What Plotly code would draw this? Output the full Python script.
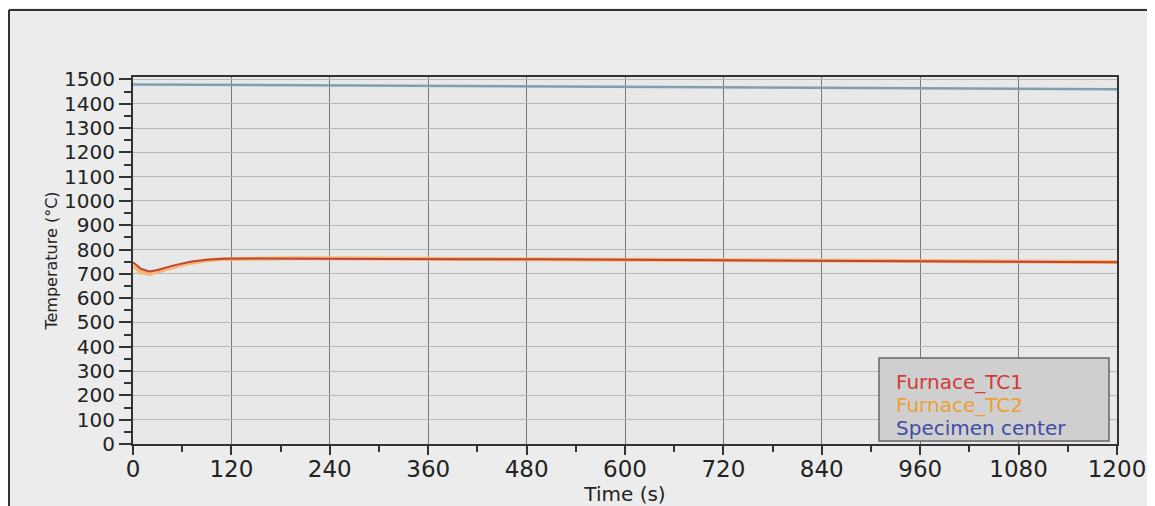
import plotly.graph_objects as go

# ---- data ----
series_names = ["Furnace_TC1", "Furnace_TC2", "Specimen center"]
series_colors = ["#d23a36", "#eba035", "#3f4ca6"]

t_tc1 = [0, 5, 10, 20, 30, 50, 70, 90, 110, 150, 200, 300, 400, 500, 600, 700, 800, 900, 1000, 1100, 1200]
tc1 = [748, 735, 720, 710, 716, 735, 750, 758, 762, 763, 762, 761, 760, 760, 758, 757, 755, 753, 751, 750, 748]

t_tc2 = [0, 5, 10, 20, 30, 50, 70, 90, 110, 150, 200, 300, 400, 500, 600, 700, 800, 900, 1000, 1100, 1200]
tc2 = [732, 718, 706, 700, 708, 728, 745, 756, 761, 764, 764, 763, 762, 761, 760, 759, 757, 755, 753, 751, 749]

t_spec = [0, 200, 400, 600, 800, 1000, 1200]
spec = [1479, 1476, 1472, 1469, 1465, 1462, 1460]

x_ticks = [0, 120, 240, 360, 480, 600, 720, 840, 960, 1080, 1200]
y_ticks = [0, 100, 200, 300, 400, 500, 600, 700, 800, 900, 1000, 1100, 1200, 1300, 1400, 1500]

FONT = "DejaVu Sans"
OFF = 8  # page body margin
W, H = 1147, 498
L, R, T, B = 125, 38, 69, 62
pw, ph = W - L - R, H - T - B

fig = go.Figure()
fig.add_trace(go.Scatter(x=t_tc2, y=tc2, mode="lines", name=series_names[1],
                         line=dict(color="#f5b878", width=4), showlegend=False))
fig.add_trace(go.Scatter(x=t_tc1, y=tc1, mode="lines", name=series_names[0],
                         line=dict(color="#c0452e", width=2), showlegend=False))
fig.add_trace(go.Scatter(x=t_spec, y=spec, mode="lines", name=series_names[2],
                         line=dict(color="#7e9fb2", width=2.5), showlegend=False))

def px_x(px):
    return (px - OFF - L) / pw

def px_y(py):
    return (H - B - (py - OFF)) / ph

shapes = [
    # outer page frame
    dict(type="line", xref="paper", yref="paper", x0=px_x(9), x1=px_x(9), y0=px_y(506), y1=px_y(10),
         line=dict(color="#333333", width=2)),
    dict(type="line", xref="paper", yref="paper", x0=px_x(9), x1=px_x(1155), y0=px_y(10), y1=px_y(10),
         line=dict(color="#333333", width=2)),
    # legend box
    dict(type="rect", xref="paper", yref="paper", x0=px_x(879), x1=px_x(1109), y0=px_y(441), y1=px_y(358),
         fillcolor="#cfcfcf", line=dict(color="#666666", width=1.5), layer="above"),
]
annotations = []
for i, (name, col) in enumerate(zip(series_names, series_colors)):
    annotations.append(dict(xref="paper", yref="paper", x=px_x(894), y=px_y(382 + i * 23),
                            text=name, showarrow=False, xanchor="left", yanchor="middle",
                            font=dict(family=FONT, size=20, color=col)))

fig.update_layout(
    width=W, height=H,
    margin=dict(l=L, r=R, t=T, b=B, autoexpand=False),
    paper_bgcolor="#ececec",
    plot_bgcolor="#e8e8e8",
    shapes=shapes,
    annotations=annotations,
    showlegend=False,
    xaxis=dict(
        range=[0, 1200], tickvals=x_ticks, ticktext=[str(v) for v in x_ticks],
        automargin=False,
        showgrid=True, gridcolor="#7a7a7a", gridwidth=1,
        showline=True, linecolor="#333333", linewidth=2, mirror=True,
        ticks="outside", ticklen=9, tickwidth=2, tickcolor="#333333",
        ticklabelstandoff=-6,
        minor=dict(dtick=60, tick0=0, ticks="outside", ticklen=6, tickwidth=1.5, tickcolor="#333333", showgrid=False),
        tickfont=dict(family=FONT, size=23, color="#222222"),
        title=dict(text="Time (s)", font=dict(family=FONT, size=20, color="#222222"), standoff=0),
        zeroline=False,
    ),
    yaxis=dict(
        range=[0, 1510], tickvals=y_ticks, ticktext=[str(v) for v in y_ticks],
        automargin=False,
        showgrid=True, gridcolor="#b8b8b8", gridwidth=1,
        showline=True, linecolor="#333333", linewidth=2, mirror=True,
        ticks="outside", ticklen=12, tickwidth=2, tickcolor="#333333",
        minor=dict(dtick=50, tick0=0, ticks="outside", ticklen=7, tickwidth=1.5, tickcolor="#333333", showgrid=False),
        tickfont=dict(family=FONT, size=20, color="#222222"),
        title=dict(text="Temperature (°C)", font=dict(family=FONT, size=16, color="#222222"), standoff=2),
        zeroline=False,
    ),
)

fig.write_html("out.html")
